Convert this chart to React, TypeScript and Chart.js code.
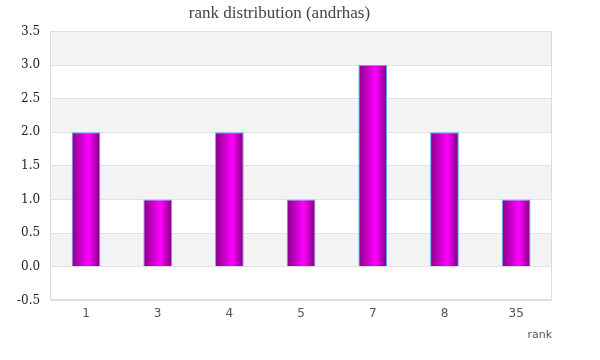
import React, { useEffect, useRef } from "react";
import { Chart, registerables } from "chart.js";

Chart.register(...registerables);

const categories = ["1", "3", "4", "5", "7", "8", "35"];
const counts = [2, 1, 2, 1, 3, 2, 1];
const yMin = -0.5;
const yMax = 3.5;
const yStep = 0.5;
const titleText = "rank distribution (andrhas)";
const xAxisTitle = "rank";

const CAT_PCT = 0.8;
const BAR_PCT = 0.5;

const bandsPlugin = {
  id: "bands",
  beforeDraw(chart: any) {
    const { ctx, chartArea } = chart;
    if (!chartArea) return;
    const y = chart.scales.y;
    ctx.save();
    ctx.fillStyle = "#ffffff";
    ctx.fillRect(chartArea.left, chartArea.top, chartArea.width, chartArea.height);
    ctx.fillStyle = "#f3f3f3";
    for (let v = yMax; v > yMin + 1e-9; v -= 2 * yStep) {
      const top = y.getPixelForValue(v);
      const bot = y.getPixelForValue(v - yStep);
      ctx.fillRect(chartArea.left, top, chartArea.width, bot - top);
    }
    ctx.restore();
  },
  afterDraw(chart: any) {
    const { ctx, chartArea } = chart;
    ctx.save();
    ctx.strokeStyle = "#dcdcdc";
    ctx.lineWidth = 1;
    ctx.strokeRect(
      Math.round(chartArea.left) + 0.5,
      Math.round(chartArea.top) + 0.5,
      Math.round(chartArea.width) - 1,
      Math.round(chartArea.height) - 1
    );
    ctx.restore();
  },
};

function barGradient(context: any) {
  const chart = context.chart;
  const area = chart.chartArea;
  if (!area) return "#cc00cc";
  const xs = chart.scales.x;
  const cx = xs.getPixelForValue(context.dataIndex);
  const catW = area.width / categories.length;
  const w = catW * CAT_PCT * BAR_PCT;
  const g = chart.ctx.createLinearGradient(cx - w / 2, 0, cx + w / 2, 0);
  g.addColorStop(0, "#880088");
  g.addColorStop(0.6, "#ff00ff");
  g.addColorStop(1, "#7a007a");
  return g;
}

export default function App() {
  const ref = useRef<HTMLCanvasElement>(null);
  useEffect(() => {
    document.body.style.margin = "0";
    const chart = new Chart(ref.current!, {
      type: "bar",
      data: {
        labels: categories,
        datasets: [
          {
            data: counts,
            backgroundColor: barGradient as any,
            borderColor: "#5aaaf0",
            borderWidth: 1,
            categoryPercentage: CAT_PCT,
            barPercentage: BAR_PCT,
          },
        ],
      },
      options: {
        animation: false,
        responsive: false,
        layout: { padding: { left: 7, right: 48, top: 0, bottom: 18 } },
        plugins: {
          legend: { display: false },
          tooltip: { enabled: false },
          title: {
            display: true,
            text: titleText,
            color: "#444",
            font: { family: "'Liberation Serif', serif", size: 17, weight: "normal" },
            padding: { top: 3, bottom: 8 },
          },
        },
        scales: {
          x: {
            grid: { display: false, drawTicks: false },
            border: { display: false },
            ticks: { color: "#555", padding: 6, font: { family: "'DejaVu Sans', sans-serif", size: 12 } },
            title: {
              display: true,
              text: xAxisTitle,
              align: "end",
              color: "#555",
              font: { family: "'DejaVu Sans', sans-serif", size: 11 },
              padding: { top: 2, bottom: 0 },
            },
          },
          y: {
            min: yMin,
            max: yMax,
            grid: { color: "#e2e2e2", drawTicks: false },
            border: { display: false },
            ticks: {
              stepSize: yStep,
              color: "#222",
              padding: 10,
              font: { family: "'DejaVu Serif', serif", size: 12 },
              callback: (v: any) => Number(v).toFixed(1),
            },
          },
        },
      },
      plugins: [bandsPlugin],
    });
    return () => chart.destroy();
  }, []);
  return <canvas ref={ref} width={600} height={360} style={{ display: "block" }} />;
}
